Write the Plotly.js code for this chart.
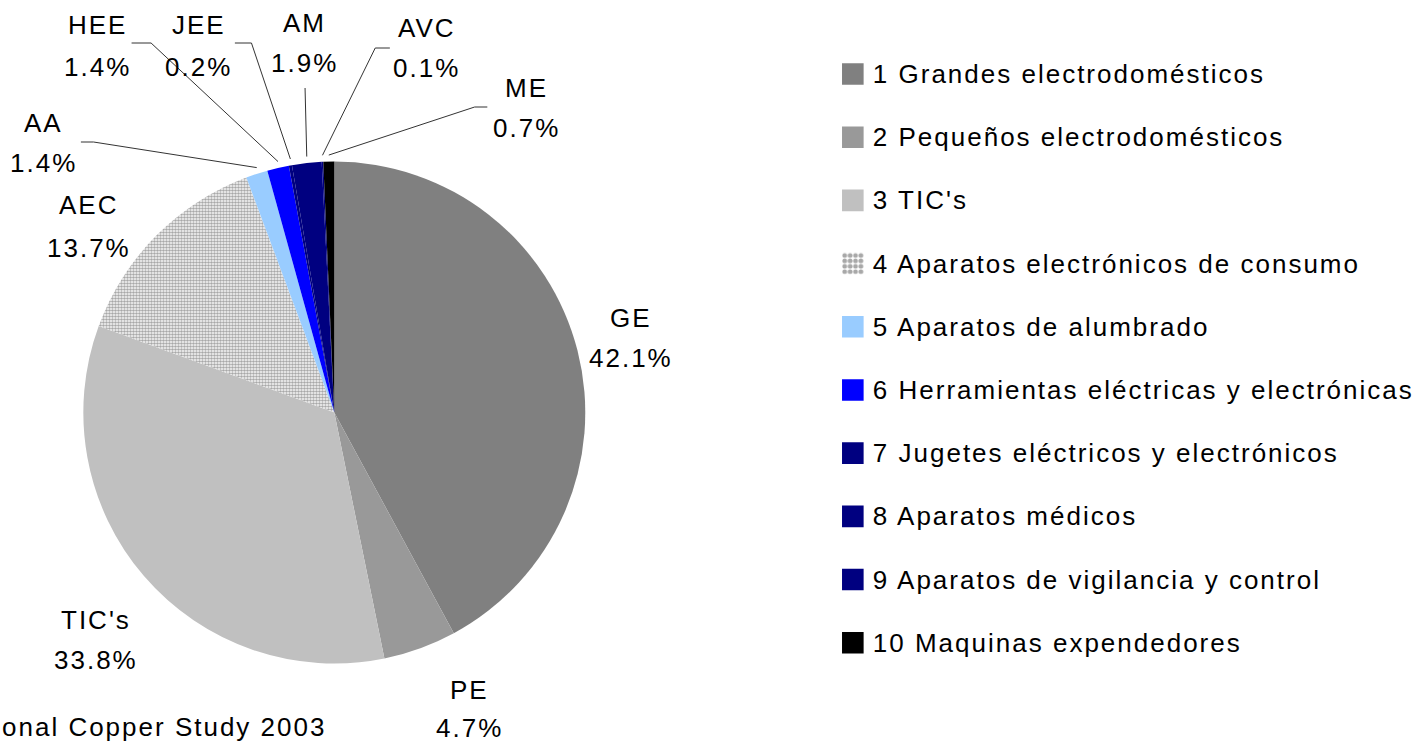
<!DOCTYPE html>
<html><head><meta charset="utf-8">
<script src="https://cdn.plot.ly/plotly-3.0.1.min.js"></script>
<style>
html,body{margin:0;padding:0;background:#fff;}
#chart{width:1419px;height:742px;}
.legendpie{transform:translate(20px,0px) scale(1.8);}
</style></head><body><div id="chart"></div>
<script>
// ---- data ----
const shortNames = ['GE', 'PE', "TIC's", 'AEC', 'AA', 'HEE', 'JEE', 'AM', 'AVC', 'ME'];
const legendNames = [
  '1 Grandes electrodomésticos',
  '2 Pequeños electrodomésticos',
  "3 TIC's",
  '4 Aparatos electrónicos de consumo',
  '5 Aparatos de alumbrado',
  '6 Herramientas eléctricas y electrónicas',
  '7 Jugetes eléctricos y electrónicos',
  '8 Aparatos médicos',
  '9 Aparatos de vigilancia y control',
  '10 Maquinas expendedores'
];
const shares = [42.1, 4.7, 33.8, 13.7, 1.4, 1.4, 0.2, 1.9, 0.1, 0.7];
const sourceText = 'onal Copper Study 2003';

// ---- styles ----
const sliceColors = ['#808080', '#999999', '#c0c0c0', '#ffffff', '#99ccff', '#0000ff', '#000080', '#000080', '#000080', '#000000'];
const slicePatterns = ['', '', '', '.', '', '', '', '', '', ''];
const W = 1419, H = 742;
const FONT = '"Liberation Sans", Arial, Helvetica, sans-serif';
const LS = 'letter-spacing:2px';

// label placement (pixels): centre x, name line y, percent line y, leader line start/elbow
const labelLayout = {
  'GE':   {x: 647, y1: 318, y2: 358},
  'PE':   {x: 482, y1: 690, y2: 728},
  "TIC's":{x: 98,  y1: 620, y2: 660},
  'AEC':  {x: 91,  y1: 205, y2: 248},
  'AA':   {x: 45,  y1: 123, y2: 163, line: [[83, 142], [96, 142]]},
  'HEE':  {x: 100, y1: 25,  y2: 67,  line: [[135, 43], [155, 43]]},
  'JEE':  {x: 204, y1: 25,  y2: 67,  line: [[241, 43], [258, 43]]},
  'AM':   {x: 312, y1: 23,  y2: 63,  line: [[313, 88]]},
  'AVC':  {x: 438, y1: 28,  y2: 68,  line: [[400, 48], [385, 48]]},
  'ME':   {x: 540, y1: 88,  y2: 128, line: [[500, 107], [487, 107]]}
};

const domX = [0.060254, 0.423185];
const domY = [0.097035, 0.791105];

const px2x = p => p / W;
const px2y = p => 1 - p / H;

// pie geometry derived from the domain
const cx = (domX[0] + domX[1]) / 2 * W;
const cy = (1 - (domY[0] + domY[1]) / 2) * H;
const rad = Math.min((domX[1] - domX[0]) * W, (domY[1] - domY[0]) * H) / 2;

const total = shares.reduce((a, b) => a + b, 0);
let cum = 0;
const midFrac = shares.map(v => { const m = (cum + v / 2) / total; cum += v; return m; });

const annotations = [];
const shapes = [];
shortNames.forEach((nm, i) => {
  const L = labelLayout[nm];
  const pct = (shares[i] / total * 100).toFixed(1) + '%';
  annotations.push({xref: 'paper', yref: 'paper', x: px2x(L.x), y: px2y(L.y1), xanchor: 'center', yanchor: 'middle',
    text: '<span style="' + LS + '">' + nm + '</span>', showarrow: false, font: {family: FONT, size: 26, color: '#000'}});
  annotations.push({xref: 'paper', yref: 'paper', x: px2x(L.x), y: px2y(L.y2), xanchor: 'center', yanchor: 'middle',
    text: '<span style="' + LS + '">' + pct + '</span>', showarrow: false, font: {family: FONT, size: 26, color: '#000'}});
  if (L.line) {
    const a = midFrac[i] * 2 * Math.PI;
    const ex = cx + rad * Math.sin(a), ey = cy - rad * Math.cos(a);
    const pts = L.line.concat([[ex, ey]]);
    const path = pts.map((p, k) => (k ? 'L' : 'M') + px2x(p[0]) + ',' + px2y(p[1])).join(' ');
    shapes.push({type: 'path', xref: 'paper', yref: 'paper', path: path, line: {color: '#333333', width: 1}});
  }
});

annotations.push({xref: 'paper', yref: 'paper', x: 0, y: px2y(727), xanchor: 'left', yanchor: 'middle',
  text: '<span style="' + LS + '">' + sourceText + '</span>', showarrow: false, font: {family: FONT, size: 26, color: '#000'}});

const trace = {
  type: 'pie',
  labels: legendNames.map(t => '<span style="font-size:26px;' + LS + ';baseline-shift:8.8px">' + t + '</span>'),
  values: shares,
  sort: false,
  direction: 'clockwise',
  rotation: 0,
  textinfo: 'none',
  textposition: 'none',
  hoverinfo: 'skip',
  automargin: false,
  domain: {x: domX, y: domY},
  marker: {
    colors: sliceColors,
    line: {width: 0, color: '#ffffff'},
    pattern: {shape: slicePatterns, fgcolor: '#a8a8a8', bgcolor: '#ffffff', size: 3, solidity: 0.6}
  }
};

const layout = {
  width: W, height: H,
  margin: {l: 0, r: 0, t: 0, b: 0},
  paper_bgcolor: '#ffffff',
  plot_bgcolor: '#ffffff',
  showlegend: true,
  legend: {
    x: 854.5 / W, xanchor: 'left',
    y: px2y(37.4), yanchor: 'top',
    font: {family: FONT, size: 46.3, color: '#000'},
    bgcolor: 'rgba(0,0,0,0)',
    borderwidth: 0,
    traceorder: 'normal'
  },
  annotations: annotations,
  shapes: shapes
};

Plotly.newPlot('chart', [trace], layout, {displayModeBar: false, staticPlot: true});
</script></body></html>
